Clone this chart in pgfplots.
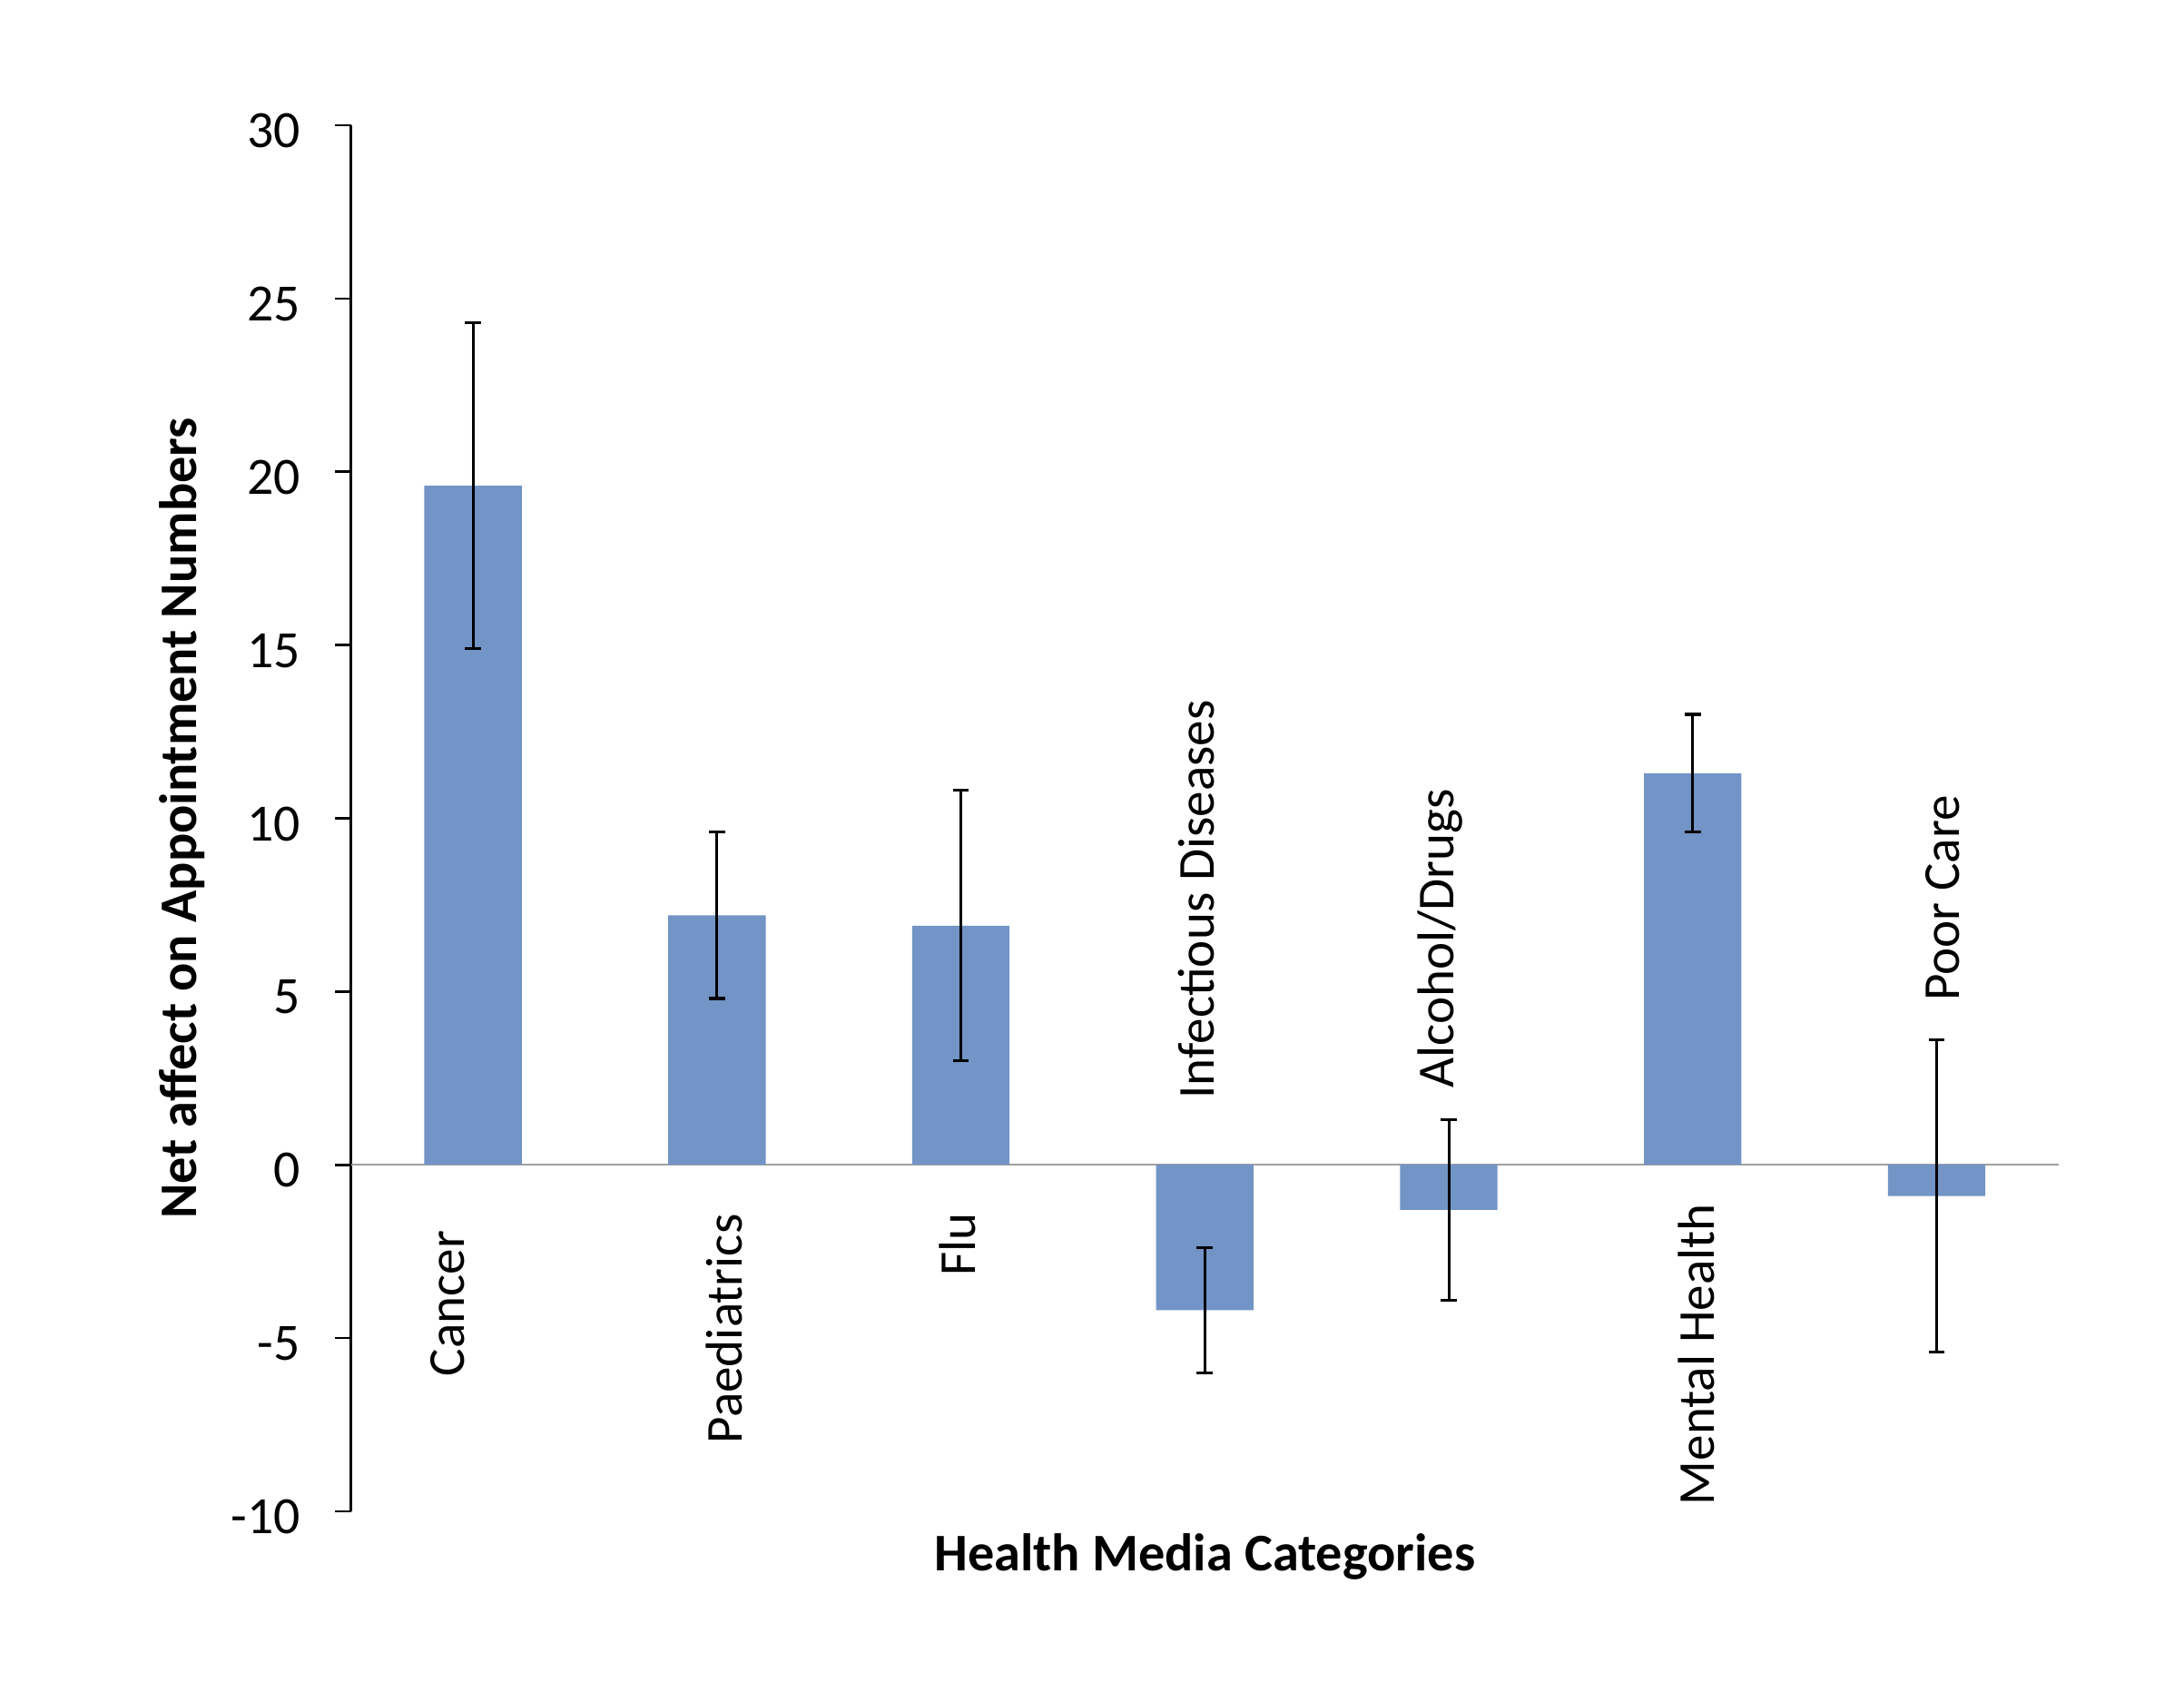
\documentclass[border=0pt]{standalone}
\usepackage{fontspec}
\setmainfont{Carlito}
\usepackage{pgfplots}
\pgfplotsset{compat=1.18}
\definecolor{barblue}{RGB}{114,148,198}
\definecolor{zerogray}{RGB}{160,160,160}
\begin{document}
\begin{tikzpicture}
\useasboundingbox (-126pt,-61pt) rectangle (658pt,542.5pt);
\begin{axis}[
  at={(0,0)}, anchor=south west,
  scale only axis, width=613pt, height=497.5pt,
  xmin=-0.5, xmax=6.5, ymin=-10, ymax=30,
  axis x line=none,
  axis y line*=left,
  ytick={-10,-5,0,5,10,15,20,25,30},
  yticklabels={-10,-5,0,5,10,15,20,25,30},
  tick align=outside,
  major tick length=5.7pt,
  y axis line style={line width=0.9pt, black},
  ytick style={line width=0.9pt, black},
  yticklabel style={font=\fontsize{18.8}{22}\selectfont, inner sep=0pt, anchor=east, xshift=-12.3pt, yshift=-2pt},
  ylabel={Net affect on Appointment Numbers},
  ylabel style={font=\fontsize{19}{23}\selectfont\bfseries, at={(axis description cs:-0.0905,0.5)}, anchor=base, inner sep=0pt},
  clip=false,
]
\draw[zerogray, line width=0.7pt] (axis cs:-0.5,0) -- (axis cs:6.5,0);
\addplot[ybar, bar width=35pt, fill=barblue, draw=none,
  error bars/.cd, y dir=both, y explicit,
  error bar style={line width=1pt, black},
  error mark options={rotate=90, line width=1pt, black, mark size=2.9pt}]
coordinates {
  (0,19.6) +- (0,4.7)
  (1,7.2) +- (0,2.4)
  (2,6.9) +- (0,3.9)
  (3,-4.2) +- (0,1.8)
  (4,-1.3) +- (0,2.6)
  (5,11.3) +- (0,1.7)
  (6,-0.9) +- (0,4.5)
};
\begin{scope}[every node/.style={rotate=90, inner sep=0pt, font=\fontsize{18.6}{22}\selectfont}]
\node[anchor=base east] at (axis cs:-0.037,-1.89) {Cancer};
\node[anchor=base east] at (axis cs:1.103,-1.41) {Paediatrics};
\node[anchor=base east] at (axis cs:2.06,-1.37) {Flu};
\node[anchor=base west] at (axis cs:3.038,1.89) {Infectious Diseases};
\node[anchor=base west] at (axis cs:4.019,2.21) {Alcohol/Drugs};
\node[anchor=base east] at (axis cs:5.089,-1.11) {Mental Health};
\node[anchor=base west] at (axis cs:6.093,4.71) {Poor Care};
\end{scope}
\node[anchor=base, font=\fontsize{19}{23}\selectfont\bfseries] at (axis description cs:0.5,-0.0432) {Health Media Categories};
\end{axis}
\end{tikzpicture}
\end{document}
